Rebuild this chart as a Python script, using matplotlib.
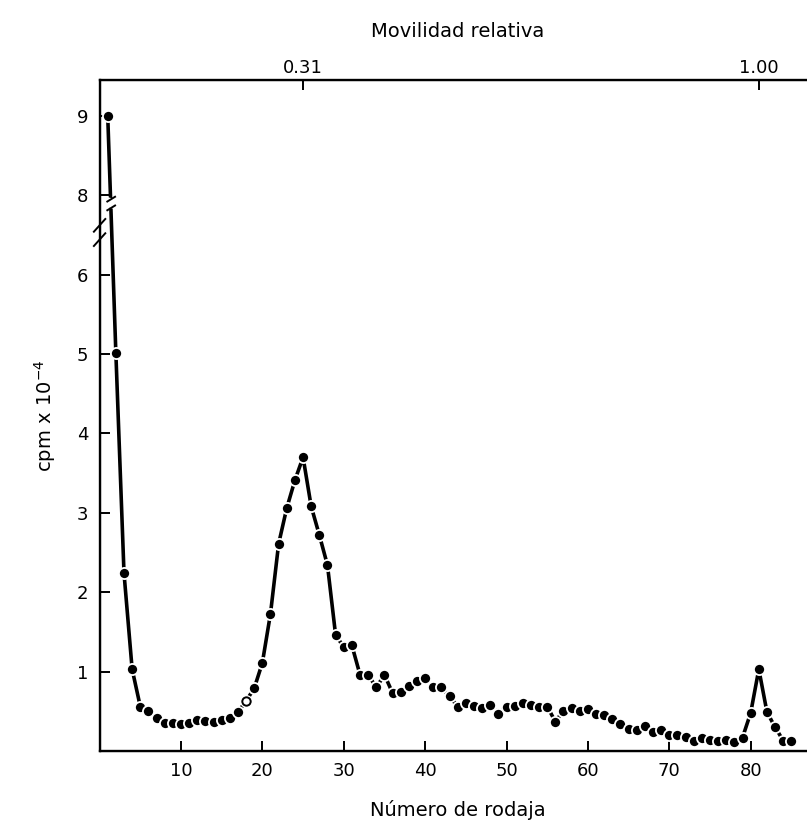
import numpy as np
import matplotlib
matplotlib.use("Agg")
import matplotlib.pyplot as plt

# =========================
# DATA
# =========================
slices = list(range(1, 86))
cpm = [
    9.0, 5.01, 2.24, 1.03, 0.56, 0.50, 0.42, 0.35, 0.35, 0.34,
    0.35, 0.39, 0.38, 0.37, 0.39, 0.41, 0.49, 0.63, 0.79, 1.11,
    1.73, 2.61, 3.06, 3.41, 3.70, 3.08, 2.72, 2.34, 1.46, 1.31,
    1.33, 0.96, 0.96, 0.80, 0.96, 0.73, 0.74, 0.82, 0.88, 0.92,
    0.80, 0.80, 0.69, 0.56, 0.61, 0.57, 0.54, 0.58, 0.47, 0.56,
    0.57, 0.61, 0.58, 0.56, 0.56, 0.37, 0.51, 0.54, 0.50, 0.53,
    0.47, 0.45, 0.40, 0.34, 0.28, 0.26, 0.31, 0.24, 0.26, 0.20,
    0.20, 0.18, 0.13, 0.16, 0.14, 0.13, 0.14, 0.11, 0.17, 0.48,
    1.03, 0.49, 0.30, 0.13, 0.12,
]
open_slices = [18]

x_ticks = [10, 20, 30, 40, 50, 60, 70, 80]
y_tick_values = [1, 2, 3, 4, 5, 6, 8, 9]
top_tick_slices = [25, 81]
top_tick_labels = ["0.31", "1.00"]

# axis is broken between 6 and 8: everything above 7 is shifted down by one
def broken(v):
    v = np.asarray(v, dtype=float)
    return np.where(v > 7, v - 1, v)

y_plot = broken(cpm)

# =========================
# FIGURE
# =========================
fig = plt.figure(figsize=(8.07, 8.26), dpi=100)
ax = fig.add_axes([0.1234, 0.0908, 0.8875, 0.8123])

ax.plot(slices, y_plot, color="black", lw=2.6, marker="o", ms=8,
        mfc="black", mec="white", mew=1.3, zorder=3)

# open circle points
for s in open_slices:
    i = slices.index(s)
    ax.plot(s, y_plot[i], marker="o", ms=6, mfc="white", mec="black",
            mew=1.4, zorder=4, ls="none")

ax.set_xlim(0, 88)
ax.set_ylim(0, 8.45)

ax.set_xticks(x_ticks)
ax.set_xticklabels([str(t) for t in x_ticks])
ax.set_yticks(broken(y_tick_values))
ax.set_yticklabels([str(t) for t in y_tick_values])
ax.tick_params(direction="in", length=7, width=1.4, labelsize=13, pad=8)

for sp in ax.spines.values():
    sp.set_linewidth(1.7)

# top axis (relative mobility)
ax2 = ax.twiny()
ax2.set_xlim(ax.get_xlim())
ax2.set_xticks(top_tick_slices)
ax2.set_xticklabels(top_tick_labels)
ax2.tick_params(direction="in", length=7, width=1.4, labelsize=13, pad=2)
ax2.set_xlabel("Movilidad relativa", fontsize=14, labelpad=16)

ax.set_xlabel("Número de rodaja", fontsize=14, labelpad=14)
ax.set_ylabel("cpm x 10$^{-4}$", fontsize=14, labelpad=14)

# break marks on the y axis
for dy in (-0.09, 0.09):
    ax.plot([-0.7, 0.7], [6.53 + dy - 0.08, 6.53 + dy + 0.08], color="black",
            lw=1.4, clip_on=False, zorder=5)

# break in the first segment of the curve
ax.plot([1.25, 1.55], [6.84, 6.96], color="white", lw=7, zorder=4,
        solid_capstyle="butt")
for yb in (6.95, 6.84):
    ax.plot([0.95, 1.9], [yb - 0.03, yb + 0.03], color="black", lw=1.4, zorder=5)

fig.savefig("out.png", dpi=100)
